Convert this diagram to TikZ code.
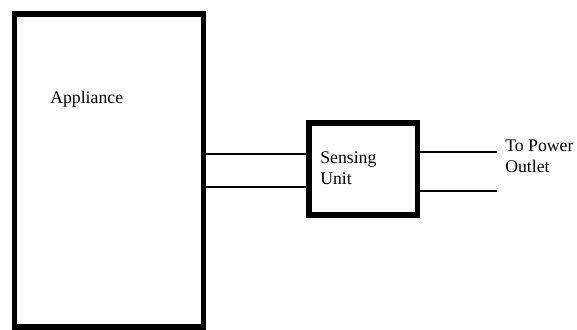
\documentclass[tikz,border=0pt]{standalone}
\usepackage{fontspec}
\setmainfont{Liberation Serif}
\usepackage{tikz}
\definecolor{SensorInk}{HTML}{000000}

\begin{document}
\begin{tikzpicture}[x=0.75pt,y=-0.75pt,
    unitbox/.style={draw=SensorInk,line width=4pt,inner sep=0pt},
    wire/.style={draw=SensorInk,line width=1.3pt},
    boxtext/.style={inner sep=0pt,align=left,font=\fontsize{13.3}{15.75}\selectfont}]
  \useasboundingbox (0,0) rectangle (577,329);
  \node[unitbox,minimum width=141.75pt,minimum height=234.75pt] (appliance) at (109,170.5) {};
  \node[unitbox,minimum width=81.4pt,minimum height=69pt] (sensing) at (363.25,169) {};
  \node[boxtext,anchor=base west] (applianceText) at (50,103) {Appliance};
  \node[boxtext,anchor=base west] (sensingText) at (320,184) {Sensing\\Unit};
  \node[boxtext,anchor=base west] (outletText) at (505,172) {To Power\\Outlet};
  \coordinate (plugA) at (497,152);
  \coordinate (plugB) at (497,191);
  \foreach \y in {154,187} {
    \draw[wire] (appliance.east |- 0,\y) -- (sensing.west |- 0,\y);
  }
  \draw[wire] (sensing.east |- plugA) -- (plugA);
  \draw[wire] (sensing.east |- plugB) -- (plugB);
\end{tikzpicture}
\end{document}
